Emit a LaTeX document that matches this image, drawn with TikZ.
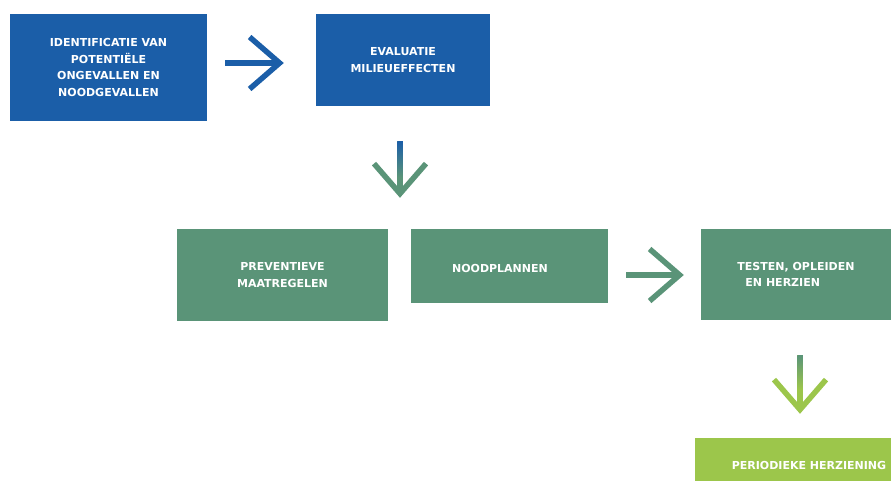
\documentclass[tikz,border=0pt]{standalone}
\usepackage{fontspec}
\setmainfont{DejaVu Sans}
\usetikzlibrary{arrows.meta,calc}
\definecolor{eblue}{HTML}{1B5EA8}
\definecolor{egreen}{HTML}{5A9478}
\definecolor{elight}{HTML}{9CC64B}
\begin{document}
\begin{tikzpicture}[x=1pt,y=-1pt,
  box/.style={draw=none,fill=#1,text=white,inner sep=0pt,align=center,
    font=\fontsize{11}{16.5}\selectfont\bfseries},
  flow/.style={draw=#1,line width=5.5pt,
    -{Straight Barb[length=30pt,width=52pt]}}
]
\useasboundingbox (0,0) rectangle (891,481);
\node[box=eblue,minimum width=197pt,minimum height=107pt] (b1) at (108.5,67.5)
  {IDENTIFICATIE VAN\\POTENTIËLE\\ONGEVALLEN EN\\NOODGEVALLEN};
\node[box=eblue,minimum width=174pt,minimum height=92pt] (b2) at (403,60)
  {EVALUATIE\\MILIEUEFFECTEN};
\node[box=egreen,minimum width=211pt,minimum height=92pt] (b3) at (282.5,275)
  {PREVENTIEVE\\MAATREGELEN};
\node[box=egreen,minimum width=197pt,minimum height=74pt] (b4) at (509.5,266) {};
\node[box=egreen,anchor=center] (t4) at (500,268) {NOODPLANNEN};
\node[box=egreen,minimum width=190pt,minimum height=91pt,align=left] (b5) at (796,274.5)
  {TESTEN, OPLEIDEN\\\hspace*{8pt}EN HERZIEN};
\node[box=elight,minimum width=196pt,minimum height=43pt] (b6) at (793,459.5) {};
\node[box=elight] (t6) at (809,465) {PERIODIEKE HERZIENING};

% arrow 1
\coordinate (a1s) at ($(b1.east)+(18,-4.5)$);
\coordinate (a1e) at ($(b2.west)+(-32,3)$);
\draw[flow=eblue] (a1s) -- (a1e);
% arrow 2
\coordinate (a2s) at ($(b2.south)+(-3,35)$);
\coordinate (a2e) at ($(b3.north)+(117.5,-31)$);
\draw[flow=egreen] (a2s) -- (a2e);
\shade[top color=eblue,bottom color=egreen] ($(a2s)+(-2.75,0)$) rectangle ($(a2s)+(2.75,36)$);
% arrow 3
\coordinate (a3s) at ($(b4.east)+(18,9)$);
\coordinate (a3e) at ($(b5.west)+(-17,0.5)$);
\draw[flow=egreen] (a3s) -- (a3e);
% arrow 4
\coordinate (a4s) at ($(b5.south)+(4,35)$);
\coordinate (a4e) at ($(b6.north)+(7,-24)$);
\draw[flow=elight] (a4s) -- (a4e);
\shade[top color=egreen,bottom color=elight] ($(a4s)+(-2.75,0)$) rectangle ($(a4s)+(2.75,34)$);
\end{tikzpicture}
\end{document}
